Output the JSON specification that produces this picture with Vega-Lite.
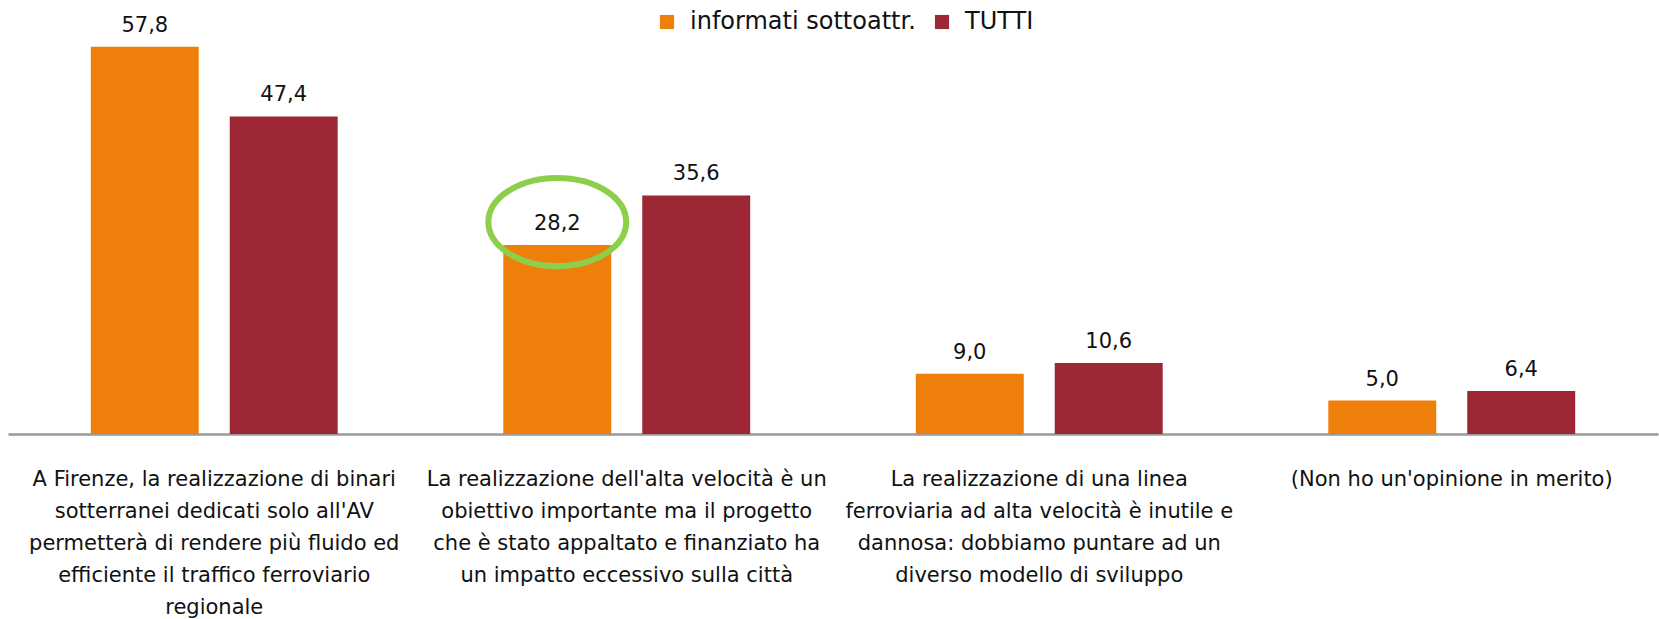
{
  "$schema": "https://vega.github.io/schema/vega-lite/v6.json",
  "autosize": "none",
  "width": 1650,
  "height": 402,
  "padding": {"left": 8, "top": 32, "right": 1, "bottom": 185},
  "background": "white",
  "config": {
    "view": {"stroke": null},
    "font": "DejaVu Sans",
    "locale": {"number": {"decimal": ",", "thousands": ".", "grouping": [3], "currency": ["", " €"]}}
  },
  "datasets": {
    "bars": [
      {"cat": "A Firenze, la realizzazione di binari|sotterranei dedicati solo all'AV|permetterà di rendere più fluido ed|efficiente il traffico ferroviario|regionale", "serie": "informati sottoattr.", "value": 57.8},
      {"cat": "A Firenze, la realizzazione di binari|sotterranei dedicati solo all'AV|permetterà di rendere più fluido ed|efficiente il traffico ferroviario|regionale", "serie": "TUTTI", "value": 47.4},
      {"cat": "La realizzazione dell'alta velocità è un|obiettivo importante ma il progetto|che è stato appaltato e finanziato ha|un impatto eccessivo sulla città", "serie": "informati sottoattr.", "value": 28.2},
      {"cat": "La realizzazione dell'alta velocità è un|obiettivo importante ma il progetto|che è stato appaltato e finanziato ha|un impatto eccessivo sulla città", "serie": "TUTTI", "value": 35.6},
      {"cat": "La realizzazione di una linea|ferroviaria ad alta velocità è inutile e|dannosa: dobbiamo puntare ad un|diverso modello di sviluppo", "serie": "informati sottoattr.", "value": 9.0},
      {"cat": "La realizzazione di una linea|ferroviaria ad alta velocità è inutile e|dannosa: dobbiamo puntare ad un|diverso modello di sviluppo", "serie": "TUTTI", "value": 10.6},
      {"cat": "(Non ho un'opinione in merito)", "serie": "informati sottoattr.", "value": 5.0},
      {"cat": "(Non ho un'opinione in merito)", "serie": "TUTTI", "value": 6.4}
    ],
    "highlight": [
      {"cat": "La realizzazione dell'alta velocità è un|obiettivo importante ma il progetto|che è stato appaltato e finanziato ha|un impatto eccessivo sulla città", "serie": "informati sottoattr.", "value": 28.2}
    ]
  },
  "encoding": {
    "x": {
      "field": "cat", "type": "nominal", "sort": null,
      "scale": {"paddingInner": 0, "paddingOuter": 0},
      "axis": {
        "title": null, "labelAngle": 0, "ticks": false,
        "domainColor": "#999999", "domainWidth": 2.5,
        "labelExpr": "split(datum.value, '|')",
        "labelFont": "DejaVu Sans", "labelFontSize": 21, "labelColor": "#111111",
        "labelLineHeight": 32, "labelPadding": 34, "labelLimit": 500,
        "labelBaseline": "top"
      }
    },
    "xOffset": {
      "field": "serie", "type": "nominal", "sort": ["informati sottoattr.", "TUTTI"],
      "scale": {"paddingInner": 0.223, "paddingOuter": 0.596}
    },
    "y": {
      "field": "value", "type": "quantitative",
      "scale": {"domain": [0, 60]},
      "axis": null
    }
  },
  "layer": [
    {
      "data": {"name": "bars"},
      "mark": {"type": "bar"},
      "encoding": {
        "color": {
          "field": "serie", "type": "nominal",
          "scale": {"domain": ["informati sottoattr.", "TUTTI"], "range": ["#ef7f0b", "#9e2736"]},
          "legend": {
            "title": null, "orient": "none", "direction": "horizontal",
            "legendX": 647, "legendY": -22,
            "symbolType": "square", "symbolSize": 200, "symbolStrokeWidth": 0,
            "labelFont": "DejaVu Sans", "labelFontSize": 24, "labelColor": "#111111",
            "labelOffset": 11, "columnPadding": 14, "labelLimit": 400
          }
        }
      }
    },
    {
      "data": {"name": "bars"},
      "mark": {"type": "text", "baseline": "alphabetic", "dy": -15, "font": "DejaVu Sans", "fontSize": 21, "color": "#111111"},
      "encoding": {
        "text": {"field": "value", "type": "quantitative", "format": ".1f"}
      }
    },
    {
      "data": {"name": "highlight"},
      "mark": {
        "type": "point", "filled": false, "stroke": "#8dcf4a", "strokeWidth": 6, "opacity": 1,
        "shape": "M -1 0 A 1 0.64 0 1 0 1 0 A 1 0.64 0 1 0 -1 0 Z",
        "size": 19000, "yOffset": -23, "xOffset": -3
      },
      "encoding": {}
    }
  ]
}
